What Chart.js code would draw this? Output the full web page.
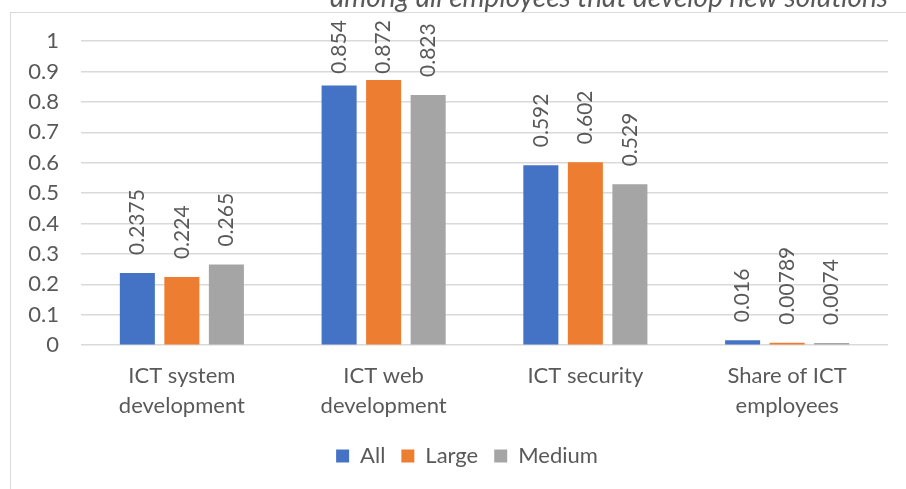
<!DOCTYPE html>
<html>
<head>
<meta charset="utf-8">
<script src="https://cdn.jsdelivr.net/npm/chart.js@4"></script>
<style>
    html, body { margin: 0; padding: 0; background: #fff; }
    .page { position: relative; width: 906px; height: 489px; overflow: hidden; background: #fff; }
    .frame {
        position: absolute; left: 10px; top: 12px; width: 1000px; height: 600px;
        border-left: 1px solid #d9d9d9; border-top: 1px solid #d9d9d9;
    }
    #chart { position: absolute; left: 0; top: -16px; }
</style>
</head>
<body>
<div class="page">
    <div class="frame"></div>
    <canvas id="chart" width="906" height="505"></canvas>
</div>
<script>
const titleText = 'among all employees that develop new solutions'
const categories = [
    ['ICT system', 'development'],
    ['ICT web', 'development'],
    ['ICT security'],
    ['Share of ICT', 'employees']
]
const allValues = [0.2375, 0.854, 0.592, 0.016]
const largeValues = [0.224, 0.872, 0.602, 0.00789]
const mediumValues = [0.265, 0.823, 0.529, 0.0074]
const yTicks = [0, 0.1, 0.2, 0.3, 0.4, 0.5, 0.6, 0.7, 0.8, 0.9, 1]

const textColor = '#595959'
const font = 'Lato, "Open Sans", sans-serif'

// value labels written upwards above each bar, pushed down when they would
// run past the top of the frame
const barValueLabels = {
    id: 'barValueLabels',
    afterDatasetsDraw(chart) {
        const ctx = chart.ctx
        const ceiling = chart.chartArea.top - 21
        ctx.save()
        ctx.fillStyle = textColor
        ctx.font = `21px ${font}`
        ctx.textAlign = 'left'
        ctx.textBaseline = 'middle'
        chart.data.datasets.forEach((ds, i) => {
            chart.getDatasetMeta(i).data.forEach((bar, j) => {
                const txt = String(ds.data[j])
                const w = ctx.measureText(txt).width
                const start = Math.max(bar.y - 18, ceiling + w)
                ctx.save()
                ctx.translate(bar.x, start)
                ctx.rotate(-Math.PI / 2)
                ctx.fillText(txt, 0, 0)
                ctx.restore()
            })
        })
        ctx.restore()
    }
}

// legend sits a bit right of the canvas centre
const nudgeLegend = {
    id: 'nudgeLegend',
    afterLayout(chart) {
        chart.legend.left += 19
        chart.legend.right += 19
    }
}

const mkSet = (label, data, color) => ({
    label, data,
    backgroundColor: color,
    borderWidth: 0,
    categoryPercentage: 0.662,
    barPercentage: 0.787
})

new Chart(document.getElementById('chart').getContext('2d'), {
    type: 'bar',
    data: {
        labels: categories,
        datasets: [
            mkSet('All', allValues, '#4472c4'),
            mkSet('Large', largeValues, '#ed7d31'),
            mkSet('Medium', mediumValues, '#a5a5a5')
        ]
    },
    options: {
        responsive: false,
        animation: false,
        layout: { padding: { left: 8, right: 18, top: 0, bottom: 12 } },
        scales: {
            x: {
                grid: { display: false },
                border: { display: false },
                ticks: {
                    color: textColor,
                    font: { family: font, size: 22, lineHeight: 1.36 },
                    padding: 8,
                    maxRotation: 0,
                    autoSkip: false
                }
            },
            y: {
                min: 0,
                max: 1,
                afterBuildTicks: axis => { axis.ticks = yTicks.map(value => ({ value })) },
                afterFit: axis => { axis.width = 73 },
                grid: { color: '#d9d9d9', lineWidth: 1.5, drawTicks: false },
                border: { display: false },
                ticks: {
                    color: textColor,
                    font: { family: font, size: 22 },
                    padding: 22,
                    callback: v => String(Math.round(v * 10) / 10)
                }
            }
        },
        plugins: {
            title: {
                display: true,
                text: titleText,
                align: 'end',
                color: textColor,
                font: { family: font, size: 28, style: 'italic', weight: 'normal', lineHeight: 0.97 },
                padding: { top: 0, bottom: 30 }
            },
            legend: {
                position: 'bottom',
                labels: {
                    color: textColor,
                    font: { family: font, size: 22 },
                    boxWidth: 13,
                    boxHeight: 13,
                    padding: 16
                }
            },
            tooltip: { enabled: false }
        }
    },
    plugins: [barValueLabels, nudgeLegend]
})
</script>
</body>
</html>
